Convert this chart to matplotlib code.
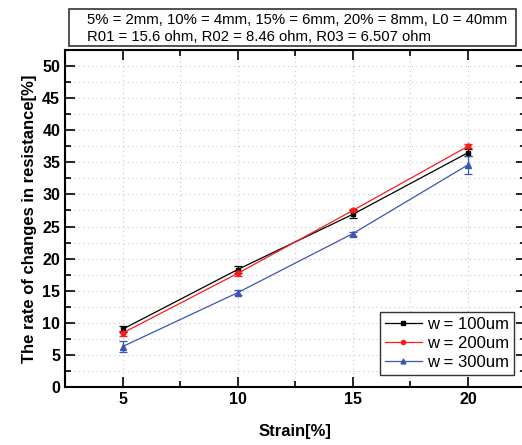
import matplotlib
matplotlib.use("Agg")
import matplotlib.pyplot as plt
from matplotlib.patches import Rectangle
from matplotlib.lines import Line2D
from matplotlib.ticker import MultipleLocator

plt.rcParams['font.family'] = ['Liberation Sans', 'DejaVu Sans']

# strain levels and measured resistance change for each width
strain = [5, 10, 15, 20]
w100 = [9.0, 18.3, 26.9, 36.5]
w100_err = [0.5, 0.5, 0.6, 0.5]
w200 = [8.4, 17.7, 27.5, 37.5]
w200_err = [0.4, 0.4, 0.3, 0.3]
w300 = [6.3, 14.7, 23.9, 34.6]
w300_err = [0.8, 0.4, 0.3, 1.4]
labels = ["w = 100um", "w = 200um", "w = 300um"]

colors = ['black', '#ff1a1a', '#3a55b4']
markers = ['s', 'o', '^']
sizes = [3.5, 3.5, 4]

fig = plt.figure(figsize=(5.22, 4.45), dpi=100)
ax = fig.add_axes([65/522, 58/445, 460.5/522, 337/445])

series = [(w100, w100_err), (w200, w200_err), (w300, w300_err)]
for (vals, errs), c, m, s in zip(series, colors, markers, sizes):
    ax.errorbar(strain, vals, yerr=errs, color=c, marker=m, ms=s,
                lw=0.9, capsize=3, elinewidth=0.9, capthick=0.9)

ax.set_xlim(2.5, 22.5)
ax.set_ylim(0, 52.5)
ax.xaxis.set_major_locator(MultipleLocator(5))
ax.xaxis.set_minor_locator(MultipleLocator(2.5))
ax.yaxis.set_major_locator(MultipleLocator(5))
ax.yaxis.set_minor_locator(MultipleLocator(2.5))
ax.grid(True, which='both', color='#c8c8c8', linestyle=(0, (1, 3)), lw=0.8)
ax.tick_params(which='both', direction='in', top=True, right=True,
               width=1.2, labelsize=11.5)
ax.tick_params(which='major', length=7)
ax.tick_params(which='minor', length=4)
for lbl in ax.get_xticklabels() + ax.get_yticklabels():
    lbl.set_fontweight('bold')
for sp in ax.spines.values():
    sp.set_linewidth(1.5)

ax.set_xlabel("Strain[%]", fontsize=12, fontweight='bold', labelpad=12)
ax.set_ylabel("The rate of changes in resistance[%]", fontsize=12,
              fontweight='bold', labelpad=4)

# legend shows plain line + marker, no error bars
handles = [Line2D([], [], color=c, marker=m, ms=s - 0.5, lw=0.9)
           for c, m, s in zip(colors, markers, sizes)]
leg = ax.legend(handles, labels, loc='lower left',
                bbox_to_anchor=(315/460.5, 12/337),
                fontsize=12, frameon=True, fancybox=False, borderpad=0.3,
                handlelength=2.2, labelspacing=0.25, handletextpad=0.3,
                borderaxespad=0)
leg.get_frame().set_edgecolor('black')
leg.get_frame().set_linewidth(1.0)

# header box with geometry and base resistances
fig.patches.append(Rectangle((69/522, 1 - 46/445), 447/522, 37/445,
                             transform=fig.transFigure, fill=False,
                             edgecolor='#333333', lw=1.2))
fig.text(87/522, 1 - 20/445,
         "5% = 2mm, 10% = 4mm, 15% = 6mm, 20% = 8mm, L0 = 40mm",
         fontsize=10.7, va='center', ha='left')
fig.text(87/522, 1 - 37/445,
         "R01 = 15.6 ohm, R02 = 8.46 ohm, R03 = 6.507 ohm",
         fontsize=10.7, va='center', ha='left')

fig.savefig("out.png", dpi=100)
